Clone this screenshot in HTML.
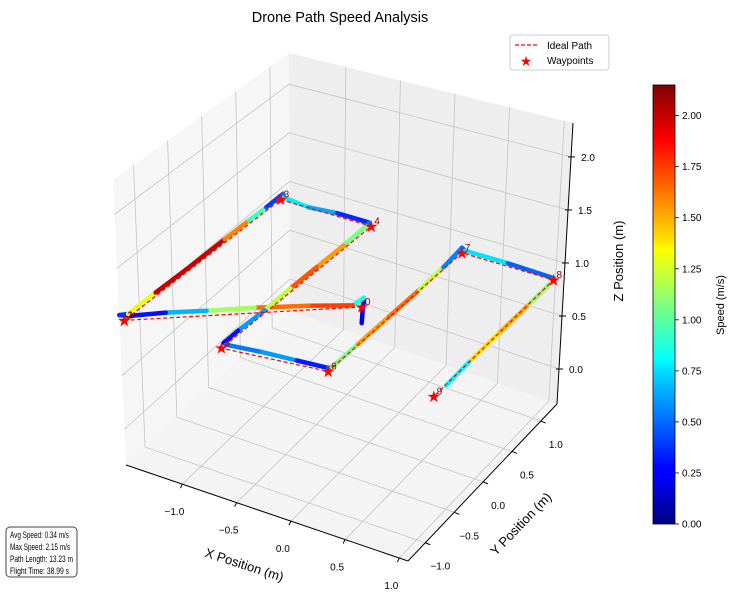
<!DOCTYPE html>
<html><head><meta charset="utf-8"><style>
html,body{margin:0;padding:0;background:#fff;}
svg{display:block;font-family:"Liberation Sans","DejaVu Sans",sans-serif;}
</style></head><body>
<svg id="chart" width="737" height="603" viewBox="0 0 737 603">
<text x="340" y="22" text-anchor="middle" font-size="14.5">Drone Path Speed Analysis</text>
<g id="panes"></g>
<g id="grid"></g>
<g id="axes"></g>
<g id="actual"></g>
<g id="ideal"></g>
<g id="wps"></g>
<text x="0" y="0" transform="translate(243,569) rotate(18)" text-anchor="middle" font-size="13">X Position (m)</text>
<text x="0" y="0" transform="translate(524,527) rotate(-46)" text-anchor="middle" font-size="13">Y Position (m)</text>
<text x="0" y="0" transform="translate(623,261) rotate(-90)" text-anchor="middle" font-size="13">Z Position (m)</text>
<g>
<rect x="510" y="35" width="99" height="35" rx="3" fill="#fff" stroke="#ccc"/>
<line x1="515" y1="45" x2="538" y2="45" stroke="red" stroke-width="1.3" stroke-dasharray="4,2"/>
<text x="547" y="49" font-size="10">Ideal Path</text>
<text x="526" y="66" font-size="14" fill="red" text-anchor="middle">★</text>
<text x="547" y="64" font-size="10">Waypoints</text>
</g>
<defs><linearGradient id="jet" x1="0" y1="1" x2="0" y2="0">
<stop offset="0" stop-color="#00007f"/><stop offset="0.11" stop-color="#0000ff"/><stop offset="0.125" stop-color="#0000ff"/><stop offset="0.34" stop-color="#00d4ff"/><stop offset="0.375" stop-color="#00ffff"/><stop offset="0.5" stop-color="#7fff7f"/><stop offset="0.625" stop-color="#ffff00"/><stop offset="0.66" stop-color="#ffd400"/><stop offset="0.875" stop-color="#ff0000"/><stop offset="1" stop-color="#7f0000"/>
</linearGradient></defs>
<rect x="653" y="85" width="22" height="439" fill="url(#jet)" stroke="#000" stroke-width="0.8"/>
<g id="cbticks"></g>
<text x="0" y="0" transform="translate(724,305) rotate(-90)" text-anchor="middle" font-size="11">Speed (m/s)</text>
<g>
<rect x="6" y="527" width="71" height="50" rx="4" fill="#fff" fill-opacity="0.9" stroke="#444" stroke-width="1"/>
<text x="10" y="538" font-size="9.5" textLength="59" lengthAdjust="spacingAndGlyphs">Avg Speed: 0.34 m/s</text>
<text x="10" y="550" font-size="9.5" textLength="60" lengthAdjust="spacingAndGlyphs">Max Speed: 2.15 m/s</text>
<text x="10" y="562" font-size="9.5" textLength="63" lengthAdjust="spacingAndGlyphs">Path Length: 13.23 m</text>
<text x="10" y="574" font-size="9.5" textLength="59" lengthAdjust="spacingAndGlyphs">Flight Time: 38.99 s</text>
</g>
</svg>
<script>
// ---- data ----
const xTicks = [-1.0, -0.5, 0.0, 0.5, 1.0];
const yTicks = [-1.0, -0.5, 0.0, 0.5, 1.0];
const zTicks = [0.0, 0.5, 1.0, 1.5, 2.0];
const xTickLabels = ["\u22121.0", "\u22120.5", "0.0", "0.5", "1.0"];
const yTickLabels = ["\u22121.0", "\u22120.5", "0.0", "0.5", "1.0"];
const zTickLabels = ["0.0", "0.5", "1.0", "1.5", "2.0"];
const cbTicks = [0, 0.25, 0.5, 0.75, 1.0, 1.25, 1.5, 1.75, 2.0];
const cbTickLabels = ["0.00","0.25","0.50","0.75","1.00","1.25","1.50","1.75","2.00"];
const wpX = [0.0, -1.5, -1.5, -1.43, -0.58, -0.63, 0.27, 0.27, 1.13, 1.18];
const wpY = [-0.14, -1.26, -1.26, 1.0, 1.0, -1.26, -1.16, 1.0, 1.0, -1.09];
const wpZ = [1.0, 1.0, 1.0, 1.0, 1.0, 1.0, 1.0, 1.0, 1.0, 1.0];
const pathX = [0.0,0.01,-0.05,-0.35,-0.7,-1.0,-1.25,-1.45,-1.55, -1.5,-1.49,-1.47,-1.46,-1.45,-1.44,-1.42, -1.4,-1.15,-0.9,-0.6, -0.6,-0.6,-0.61,-0.62,-0.62,-0.63,-0.63, -0.6,-0.3,0.0,0.27, 0.28,0.28,0.28,0.28,0.27,0.27, 0.3,0.7,1.14, 1.15,1.16,1.17,1.18,1.2];
const pathY = [-0.14,-0.13,-0.2,-0.38,-0.62,-0.85,-1.05,-1.2,-1.25, -1.2,-0.8,-0.3,0.2,0.55,0.8,1.02, 1.0,0.98,1.0,1.0, 0.95,0.6,0.2,-0.2,-0.6,-1.0,-1.22, -1.24,-1.2,-1.18,-1.16, -1.12,-0.7,-0.2,0.3,0.7,1.0, 1.0,1.0,0.98, 0.95,0.5,0.0,-0.5,-0.92];
const pathZ = [0.85,1.08,1.03,1.03,1.03,1.03,1.04,1.03,1.03, 1.03,1.03,1.03,1.03,1.03,1.03,1.05, 1.03,1.02,1.03,1.03, 1.02,1.02,1.02,1.02,1.02,1.03,1.03, 1.03,1.03,1.03,1.03, 1.02,1.02,1.02,1.02,1.02,1.05, 1.03,1.03,1.03, 1.02,1.02,1.02,1.02,1.02];
const pathSpeed = [0.3,0.1,1.6,1.9,1.4,0.9,0.4,0.2,0.05, 0.7,1.9,2.1,1.9,1.3,0.6,0.2, 0.8,0.75,0.5,0.2, 0.8,1.3,1.8,1.6,0.8,0.4,0.2, 0.35,0.7,0.5,0.15, 0.8,1.3,1.8,1.5,0.9,0.2, 0.8,0.7,0.25, 0.9,1.3,1.7,1.1,0.5];
// ---- axes / projection ----
const XMIN=-1.52, XMAX=1.08, YMIN=-1.3, YMAX=1.28, ZMIN=-0.33, ZMAX=2.32;
const VMAX = 2.15;
const corners = {
  A:[[126,465],[113,180]], B:[[408,561],[412,250]], C:[[557,404],[573,123]], D:[[290,311],[289,53]] };
function lerp(p,q,t){return [p[0]+(q[0]-p[0])*t, p[1]+(q[1]-p[1])*t];}
function proj(x,y,z){
  const u=(x-XMIN)/(XMAX-XMIN), v=(y-YMIN)/(YMAX-YMIN), w=(z-ZMIN)/(ZMAX-ZMIN);
  const a=lerp(corners.A[0],corners.A[1],w), b=lerp(corners.B[0],corners.B[1],w),
        c=lerp(corners.C[0],corners.C[1],w), d=lerp(corners.D[0],corners.D[1],w);
  const f=lerp(a,b,u), k=lerp(d,c,u);
  return lerp(f,k,v);
}
function jet(t){
  t=Math.max(0,Math.min(1,t));
  const r=Math.max(0,Math.min(1,1.5-Math.abs(4*t-3)));
  const g=Math.max(0,Math.min(1,1.5-Math.abs(4*t-2)));
  const b=Math.max(0,Math.min(1,1.5-Math.abs(4*t-1)));
  return `rgb(${Math.round(r*255)},${Math.round(g*255)},${Math.round(b*255)})`;
}
const NS="http://www.w3.org/2000/svg";
function mk(tag,attrs,parent){const e=document.createElementNS(NS,tag);for(const k in attrs)e.setAttribute(k,attrs[k]);parent.appendChild(e);return e;}
function poly(pts){return pts.map(p=>p[0].toFixed(1)+","+p[1].toFixed(1)).join(" ");}
const panes=document.getElementById('panes');
let e;
e=mk('polygon',{points:poly([proj(XMIN,YMIN,ZMIN),proj(XMIN,YMAX,ZMIN),proj(XMIN,YMAX,ZMAX),proj(XMIN,YMIN,ZMAX)]),fill:'#f6f6f6'},panes);


e=mk('polygon',{points:poly([proj(XMIN,YMAX,ZMIN),proj(XMAX,YMAX,ZMIN),proj(XMAX,YMAX,ZMAX),proj(XMIN,YMAX,ZMAX)]),fill:'#eeeeee'},panes);


e=mk('polygon',{points:poly([proj(XMIN,YMIN,ZMIN),proj(XMAX,YMIN,ZMIN),proj(XMAX,YMAX,ZMIN),proj(XMIN,YMAX,ZMIN)]),fill:'#f4f4f4'},panes);


const grid=document.getElementById('grid');
const gs={stroke:'#c4c4c4','stroke-width':0.8,fill:'none'};
function gline(pts,name){const l=mk('polyline',Object.assign({points:poly(pts)},gs),grid);
  
  }
xTicks.forEach(x=>gline([proj(x,YMIN,ZMIN),proj(x,YMAX,ZMIN),proj(x,YMAX,ZMAX)],'x-gridline'));
yTicks.forEach(y=>gline([proj(XMAX,y,ZMIN),proj(XMIN,y,ZMIN),proj(XMIN,y,ZMAX)],'y-gridline'));
zTicks.forEach(z=>gline([proj(XMIN,YMIN,z),proj(XMIN,YMAX,z),proj(XMAX,YMAX,z)],'z-gridline'));
const axes=document.getElementById('axes');
function aline(p,q,name){const l=mk('line',{x1:p[0],y1:p[1],x2:q[0],y2:q[1],stroke:'#000','stroke-width':1},axes);
  
  return l;}
aline(proj(XMIN,YMIN,ZMIN),proj(XMAX,YMIN,ZMIN),'x-axis-line');
aline(proj(XMAX,YMIN,ZMIN),proj(XMAX,YMAX,ZMIN),'y-axis-line');
aline(proj(XMAX,YMAX,ZMIN),proj(XMAX,YMAX,ZMAX),'z-axis-line');
function tlabel(p,txt,name,anchor){const t=mk('text',{x:p[0],y:p[1],'font-size':10,'text-anchor':anchor},axes);t.textContent=txt;
  
  }
xTicks.forEach((x,i)=>{const p=proj(x,YMIN,ZMIN);aline([p[0],p[1]],[p[0]-2,p[1]+4],'x-tick');tlabel([p[0]-8,p[1]+31],xTickLabels[i],'x-tick-label','middle');});
yTicks.forEach((y,i)=>{const p=proj(XMAX,y,ZMIN);aline([p[0],p[1]],[p[0]+5,p[1]+2],'y-tick');tlabel([p[0]+15,p[1]+27],yTickLabels[i],'y-tick-label','middle');});
zTicks.forEach((z,i)=>{const p=proj(XMAX,YMAX,z);aline([p[0]-3,p[1]],[p[0]+4,p[1]],'z-tick');tlabel([p[0]+10,p[1]+4],zTickLabels[i],'z-tick-label','start');});
// actual path
const act=document.getElementById('actual');
for(let i=0;i<pathX.length-1;i++){
  const p=proj(pathX[i],pathY[i],pathZ[i]), q=proj(pathX[i+1],pathY[i+1],pathZ[i+1]);
  const s=(pathSpeed[i]+pathSpeed[i+1])/2;
  const l=mk('line',{x1:p[0],y1:p[1],x2:q[0],y2:q[1],stroke:jet(s/VMAX),'stroke-width':4.5,'stroke-linecap':'round'},act);
  
  
}
// ideal path
const idl=document.getElementById('ideal');
const ip=wpX.map((x,i)=>proj(x,wpY[i],wpZ[i]));
const il=mk('polyline',{points:poly(ip),fill:'none',stroke:'red','stroke-width':1.2,'stroke-dasharray':'4,2.5'},idl);


// waypoints
const wg=document.getElementById('wps');
ip.forEach((p,i)=>{
  const s=mk('text',{x:p[0],y:p[1]+5.5,'font-size':16,fill:'red','text-anchor':'middle'},wg);s.textContent='★';
  
  
  const t=mk('text',{x:p[0]+3,y:p[1]-2,'font-size':10,fill:'#8b0000'},wg);t.textContent=String(i);
  
  
});
// colorbar ticks
const cbt=document.getElementById('cbticks');
cbTicks.forEach((v,i)=>{const y=524-v/VMAX*439;
  const l=mk('line',{x1:675,y1:y,x2:679,y2:y,stroke:'#000','stroke-width':0.8},cbt);
  
  
  const t=mk('text',{x:682,y:y+3.5,'font-size':10},cbt);t.textContent=cbTickLabels[i];
  
  
});
</script>
</body></html>
